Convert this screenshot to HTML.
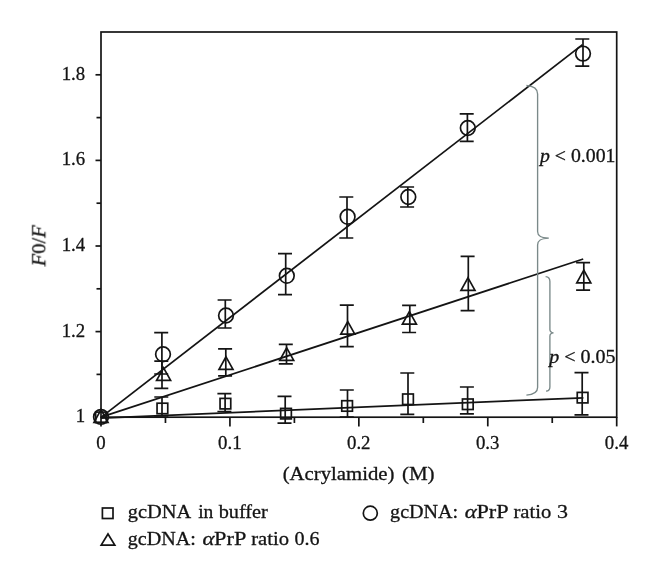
<!DOCTYPE html>
<html><head><meta charset="utf-8"><title>chart</title>
<style>html,body{margin:0;padding:0;background:#fff}body{width:660px;height:581px;overflow:hidden;font-family:"Liberation Serif",serif}</style>
</head><body>
<svg width="660" height="581" viewBox="0 0 660 581" style="display:block">
<rect width="660" height="581" fill="#fff"/>
<g fill="none" stroke="#141414" stroke-width="1.7" stroke-linecap="butt">
<rect x="101.0" y="32.0" width="515.7" height="385.2"/>
<path d="M96.5 374.40H101.0"/>
<path d="M95.5 331.60H101.0"/>
<path d="M96.5 288.80H101.0"/>
<path d="M95.5 246.00H101.0"/>
<path d="M96.5 203.20H101.0"/>
<path d="M95.5 160.40H101.0"/>
<path d="M96.5 117.60H101.0"/>
<path d="M95.5 74.80H101.0"/>
<path d="M101.00 417.2V426.4"/>
<path d="M165.46 417.2V423.0"/>
<path d="M229.93 417.2V426.4"/>
<path d="M294.39 417.2V423.0"/>
<path d="M358.85 417.2V426.4"/>
<path d="M423.31 417.2V423.0"/>
<path d="M487.78 417.2V426.4"/>
<path d="M552.24 417.2V423.0"/>
<path d="M616.70 417.2V426.4"/>
</g>
<g fill="none" stroke="#141414" stroke-width="1.75">
<path d="M101 417.4L582.5 44.6"/>
<path d="M101 417.2L583.2 259.0"/>
<path d="M101 418.1L583.4 397.8"/>
</g>
<g fill="none" stroke="#141414" stroke-width="1.7">
<circle cx="101" cy="416.9" r="7.35"/>
<path d="M161.90 332.6V374.0M154.20 332.6H168.20M154.20 374.0H168.20"/>
<circle cx="163.0" cy="354.3" r="7.35"/>
<path d="M225.30 300.0V328.0M217.60 300.0H231.60M217.60 328.0H231.60"/>
<circle cx="226.0" cy="315.5" r="7.35"/>
<path d="M285.70 253.6V294.6M278.00 253.6H292.00M278.00 294.6H292.00"/>
<circle cx="286.8" cy="275.8" r="7.35"/>
<path d="M347.00 197.0V238.0M339.30 197.0H353.30M339.30 238.0H353.30"/>
<circle cx="347.6" cy="216.8" r="7.35"/>
<path d="M407.80 187.0V207.0M400.10 187.0H414.10M400.10 207.0H414.10"/>
<circle cx="408.3" cy="197.0" r="7.35"/>
<path d="M467.40 113.8V141.3M459.70 113.8H473.70M459.70 141.3H473.70"/>
<circle cx="467.8" cy="128.0" r="7.35"/>
<path d="M583.00 39.0V66.1M575.30 39.0H589.30M575.30 66.1H589.30"/>
<circle cx="583.0" cy="53.6" r="7.35"/>
<path d="M101 409.7L108 422.29999999999995H94Z" stroke-linejoin="miter"/>
<path d="M162.00 361.2V388.3M154.30 361.2H168.30M154.30 388.3H168.30"/>
<path d="M163.6 367.8L170.6 380.4H156.6Z" stroke-linejoin="miter"/>
<path d="M225.80 348.9V375.8M218.10 348.9H232.10M218.10 375.8H232.10"/>
<path d="M226.0 356.8L233.0 369.4H219.0Z" stroke-linejoin="miter"/>
<path d="M286.50 344.3V363.8M278.80 344.3H292.80M278.80 363.8H292.80"/>
<path d="M286.7 347.8L293.7 360.4H279.7Z" stroke-linejoin="miter"/>
<path d="M347.50 305.2V346.7M339.80 305.2H353.80M339.80 346.7H353.80"/>
<path d="M347.8 321.6L354.8 334.2H340.8Z" stroke-linejoin="miter"/>
<path d="M409.80 305.4V332.5M402.10 305.4H416.10M402.10 332.5H416.10"/>
<path d="M409.4 311.6L416.4 324.2H402.4Z" stroke-linejoin="miter"/>
<path d="M468.30 256.3V310.7M460.60 256.3H474.60M460.60 310.7H474.60"/>
<path d="M468.0 277.8L475.0 290.4H461.0Z" stroke-linejoin="miter"/>
<path d="M583.80 262.6V290.2M576.10 262.6H590.10M576.10 290.2H590.10"/>
<path d="M583.8 270.2L590.8 282.79999999999995H576.8Z" stroke-linejoin="miter"/>
<rect x="95.65" y="412.10" width="10.7" height="10.5"/>
<path d="M162.00 397.0V416.0M154.30 397.0H168.30M154.30 416.0H168.30"/>
<rect x="157.05" y="403.20" width="10.7" height="10.5"/>
<path d="M225.10 393.6V411.5M217.40 393.6H231.40M217.40 411.5H231.40"/>
<rect x="220.05" y="398.40" width="10.7" height="10.5"/>
<path d="M285.20 396.3V423.1M277.50 396.3H291.50M277.50 423.1H291.50"/>
<rect x="280.65" y="408.40" width="10.7" height="10.5"/>
<path d="M347.50 390.0V417.0M339.80 390.0H353.80M339.80 417.0H353.80"/>
<rect x="341.75" y="400.70" width="10.7" height="10.5"/>
<path d="M408.00 373.0V414.3M400.30 373.0H414.30M400.30 414.3H414.30"/>
<rect x="402.65" y="394.00" width="10.7" height="10.5"/>
<path d="M467.60 387.0V413.8M459.90 387.0H473.90M459.90 413.8H473.90"/>
<rect x="462.45" y="399.00" width="10.7" height="10.5"/>
<path d="M582.20 372.6V414.9M574.50 372.6H588.50M574.50 414.9H588.50"/>
<rect x="577.25" y="392.40" width="10.7" height="10.5"/>
</g>
<g fill="none" stroke="#7a8989" stroke-width="1.35">
<path d="M526.4 85.5C533.5 86 537.6 88 537.6 94V231.5C537.6 236 540.5 237.9 548.8 238.2C540.5 238.5 537.6 240.4 537.6 245V387.5C537.6 392.5 534 394.6 526.4 395.2"/>
<path d="M545.6 276.6C548.6 276.8 549.9 278.2 549.9 281.5V329.6C549.9 331.8 550.8 332.7 553.5 332.9C550.8 333.1 549.9 334 549.9 336.2V387C549.9 390 548.8 391 546 391.2"/>
</g>
<g font-family="Liberation Serif, serif" fill="#141414" stroke="#141414" stroke-width="0.3" opacity="0.999">
<text transform="translate(85.2 422.20) scale(0.965 1)" font-size="19.5" text-anchor="end">1</text>
<text transform="translate(85.2 336.60) scale(0.965 1)" font-size="19.5" text-anchor="end">1.2</text>
<text transform="translate(85.2 251.00) scale(0.965 1)" font-size="19.5" text-anchor="end">1.4</text>
<text transform="translate(85.2 165.40) scale(0.965 1)" font-size="19.5" text-anchor="end">1.6</text>
<text transform="translate(85.2 79.80) scale(0.965 1)" font-size="19.5" text-anchor="end">1.8</text>
<text transform="translate(100.90 449) scale(0.965 1)" font-size="19.5" text-anchor="middle">0</text>
<text transform="translate(229.83 449) scale(0.965 1)" font-size="19.5" text-anchor="middle">0.1</text>
<text transform="translate(358.75 449) scale(0.965 1)" font-size="19.5" text-anchor="middle">0.2</text>
<text transform="translate(487.67 449) scale(0.965 1)" font-size="19.5" text-anchor="middle">0.3</text>
<text transform="translate(616.60 449) scale(0.965 1)" font-size="19.5" text-anchor="middle">0.4</text>
<text x="282.70" y="480" font-size="19.5" textLength="111.80" lengthAdjust="spacingAndGlyphs">(Acrylamide)</text>
<text x="401.90" y="480" font-size="19.5" textLength="32.70" lengthAdjust="spacingAndGlyphs">(M)</text>
<text transform="translate(45.3 245.7) rotate(-90)" font-size="19.5" text-anchor="middle" textLength="40.8" lengthAdjust="spacingAndGlyphs"><tspan font-style="italic">F</tspan>0/<tspan font-style="italic">F</tspan></text>
<text x="540" y="162.3" font-size="19.5" textLength="75.5" lengthAdjust="spacingAndGlyphs"><tspan font-style="italic">p</tspan> &lt; 0.001</text>
<text x="549.2" y="363" font-size="19.5" textLength="66.3" lengthAdjust="spacingAndGlyphs"><tspan font-style="italic">p</tspan> &lt; 0.05</text>
<text x="127.80" y="518.2" font-size="19.5" textLength="63.40" lengthAdjust="spacingAndGlyphs">gcDNA</text>
<text x="198.20" y="518.2" font-size="19.5" textLength="15.20" lengthAdjust="spacingAndGlyphs">in</text>
<text x="218.70" y="518.2" font-size="19.5" textLength="49.20" lengthAdjust="spacingAndGlyphs">buffer</text>
<text x="127.80" y="545" font-size="19.5" textLength="68.10" lengthAdjust="spacingAndGlyphs">gcDNA:</text>
<text x="202.50" y="545" font-size="19.5" font-style="italic" textLength="12.00" lengthAdjust="spacingAndGlyphs">α</text>
<text x="214.10" y="545" font-size="19.5" textLength="32.20" lengthAdjust="spacingAndGlyphs">PrP</text>
<text x="251.20" y="545" font-size="19.5" textLength="37.80" lengthAdjust="spacingAndGlyphs">ratio</text>
<text x="294.40" y="545" font-size="19.5" textLength="25.10" lengthAdjust="spacingAndGlyphs">0.6</text>
<text x="390.10" y="518.2" font-size="19.5" textLength="68.10" lengthAdjust="spacingAndGlyphs">gcDNA:</text>
<text x="464.80" y="518.2" font-size="19.5" font-style="italic" textLength="12.00" lengthAdjust="spacingAndGlyphs">α</text>
<text x="476.40" y="518.2" font-size="19.5" textLength="32.20" lengthAdjust="spacingAndGlyphs">PrP</text>
<text x="513.50" y="518.2" font-size="19.5" textLength="37.80" lengthAdjust="spacingAndGlyphs">ratio</text>
<text x="556.90" y="518.2" font-size="19.5" textLength="11.00" lengthAdjust="spacingAndGlyphs">3</text>
</g>
<g fill="none" stroke="#141414" stroke-width="1.7">
<rect x="102.4" y="508" width="10.6" height="10.5"/>
<path d="M108 534.0L114.8 545.1H101.2Z"/>
<circle cx="370.3" cy="513.2" r="7"/>
</g>
</svg>
</body></html>
